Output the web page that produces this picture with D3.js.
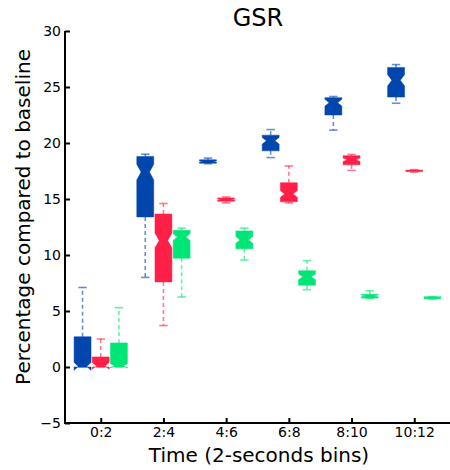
<!DOCTYPE html>
<html>
<head>
<meta charset="utf-8">
<script src="https://cdn.jsdelivr.net/npm/d3@7.9.0/dist/d3.min.js"></script>
<style>
  body { margin: 0; background: #fff; }
  svg { display: block; font-family: "DejaVu Sans", sans-serif; }
</style>
</head>
<body>
<svg id="chart" width="450" height="470"></svg>
<script>
const categories = ['0:2', '2:4', '4:6', '6:8', '8:10', '10:12'];
const yTicks = [-5, 0, 5, 10, 15, 20, 25, 30];

// each row: [whisker low, q1, median, q3, whisker high, notch half-height]
const blueStats = [
  [0, 0, 0.05, 2.7, 7.1, 0.35],
  [8.0, 13.4, 17.4, 18.8, 19.0, 0.7],
  [18.15, 18.2, 18.35, 18.5, 18.65, 0.05],
  [18.7, 19.3, 20.2, 20.7, 21.2, 0.3],
  [21.15, 22.5, 23.6, 24.05, 24.15, 0.3],
  [23.55, 24.1, 25.6, 26.75, 27.0, 0.5]
];
const redStats = [
  [0, 0, 0.1, 0.9, 2.5, 0.3],
  [3.7, 7.6, 11.3, 13.66, 14.6, 0.65],
  [14.65, 14.8, 14.95, 15.1, 15.18, 0.05],
  [14.65, 14.75, 15.45, 16.45, 17.95, 0.3],
  [17.55, 18.05, 18.5, 18.87, 18.98, 0.15],
  [17.4, 17.45, 17.5, 17.58, 17.62, 0.03]
];
const greenStats = [
  [0, 0, 0.1, 2.15, 5.3, 0.2],
  [6.25, 9.7, 11.6, 12.2, 12.4, 0.3],
  [9.55, 10.55, 11.35, 12.15, 12.4, 0.3],
  [6.9, 7.3, 8.05, 8.6, 9.5, 0.25],
  [6.1, 6.15, 6.35, 6.5, 6.8, 0.07],
  [6.05, 6.1, 6.18, 6.28, 6.3, 0.03]
];

const series = [
  { stats: blueStats, color: '#0046ad', offset: -0.29 },
  { stats: redStats, color: '#ff1f47', offset: 0 },
  { stats: greenStats, color: '#00e676', offset: 0.29 }
];

const svg = d3.select('#chart');
const plotLeft = 65, plotRight = 450, plotTop = 31, plotBottom = 423;

const x = d3.scaleLinear().domain([0.43, 6.57]).range([plotLeft, plotRight]);
const y = d3.scaleLinear().domain([-5, 30]).range([plotBottom, plotTop]);
const boxW = 0.27;

// boxes
series.forEach(s => {
  const g = svg.append('g');
  s.stats.forEach((d, i) => {
    const [lo, q1, med, q3, hi, ci] = d;
    const c = i + 1 + s.offset;
    const l = x(c - boxW / 2), r = x(c + boxW / 2);
    const nl = x(c - boxW / 4), nr = x(c + boxW / 4);
    const capL = x(c - boxW / 4), capR = x(c + boxW / 4);

    // whiskers (dashed)
    g.append('line')
      .attr('x1', x(c)).attr('x2', x(c))
      .attr('y1', y(q3)).attr('y2', y(hi))
      .attr('stroke', s.color).attr('stroke-opacity', 0.6)
      .attr('stroke-width', 1.6).attr('stroke-dasharray', '4,3');
    g.append('line')
      .attr('x1', x(c)).attr('x2', x(c))
      .attr('y1', y(q1)).attr('y2', y(lo))
      .attr('stroke', s.color).attr('stroke-opacity', 0.6)
      .attr('stroke-width', 1.6).attr('stroke-dasharray', '4,3');
    // caps
    [lo, hi].forEach(v => {
      g.append('line')
        .attr('x1', capL).attr('x2', capR)
        .attr('y1', y(v)).attr('y2', y(v))
        .attr('stroke', s.color).attr('stroke-opacity', 0.6)
        .attr('stroke-width', 1.6);
    });

    // notched box, same vertex order as matplotlib
    const pts = [
      [l, y(q1)], [r, y(q1)], [r, y(med - ci)], [nr, y(med)],
      [r, y(med + ci)], [r, y(q3)], [l, y(q3)], [l, y(med + ci)],
      [nl, y(med)], [l, y(med - ci)]
    ];
    g.append('path')
      .attr('d', d3.line()(pts) + 'Z')
      .attr('fill', s.color)
      .attr('stroke', s.color).attr('stroke-opacity', 0.5)
      .attr('stroke-width', 1);
  });
});

// axes
const yAxis = d3.axisLeft(y).tickValues(yTicks)
  .tickFormat(d => d < 0 ? '\u2212' + Math.abs(d) : d)
  .tickSize(-5).tickPadding(4);
const yg = svg.append('g').attr('transform', `translate(${plotLeft},0)`).call(yAxis);

const xAxis = d3.axisBottom(x).tickValues(d3.range(1, 7))
  .tickFormat(d => categories[d - 1])
  .tickSize(-5).tickPadding(4);
const xg = svg.append('g').attr('transform', `translate(0,${plotBottom})`).call(xAxis);

[yg, xg].forEach(g => {
  g.select('.domain').attr('stroke', '#000').attr('stroke-width', 2);
  g.selectAll('.tick line').attr('stroke', '#000').attr('stroke-width', 2);
  g.selectAll('.tick text').attr('fill', '#000')
    .style('font-family', '"DejaVu Sans", sans-serif').style('font-size', '14px');
});
yg.select('.domain').attr('d', `M0,${plotTop}V${plotBottom + 1}`);
xg.select('.domain').attr('d', `M${plotLeft - 1},0H${plotRight}`);

// labels
svg.append('text')
  .attr('x', 258).attr('y', 26)
  .attr('text-anchor', 'middle')
  .style('font-size', '24px')
  .text('GSR');

svg.append('text')
  .attr('x', 259).attr('y', 462)
  .attr('text-anchor', 'middle')
  .style('font-size', '20px')
  .text('Time (2-seconds bins)');

svg.append('text')
  .attr('transform', 'translate(30,217) rotate(-90)')
  .attr('text-anchor', 'middle')
  .style('font-size', '20px')
  .text('Percentage compared to baseline');
</script>
</body>
</html>
